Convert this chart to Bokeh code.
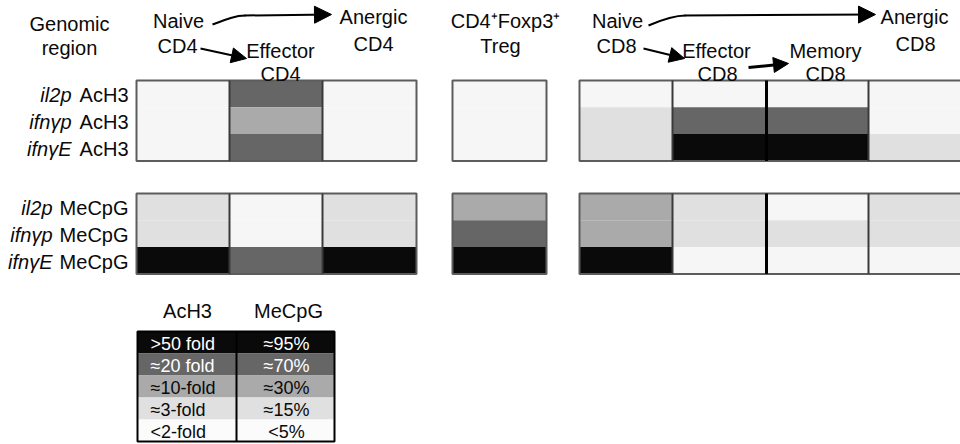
from bokeh.plotting import figure
from bokeh.models import Range1d, ColumnDataSource, Arrow, NormalHead
from bokeh.core.properties import value
from bokeh.embed import file_html
from bokeh.resources import INLINE

# ---------------- data ----------------
groups = ["CD4", "CD4", "CD4", "Treg", "CD8", "CD8", "CD8", "CD8"]
populations = ["Naive CD4", "Effector CD4", "Anergic CD4", "CD4+Foxp3+ Treg",
               "Naive CD8", "Effector CD8", "Memory CD8", "Anergic CD8"]
# levels: 0 = <2-fold / <5%, 1 = ~3-fold / ~15%, 2 = ~10-fold / ~30%, 3 = ~20 fold / ~70%, 4 = >50 fold / ~95%
ach3_il2p = [0, 3, 0, 0, 0, 0, 0, 0]
ach3_ifngp = [0, 2, 0, 0, 1, 3, 3, 0]
ach3_ifngE = [0, 3, 0, 0, 1, 4, 4, 1]
mecpg_il2p = [1, 0, 1, 2, 2, 1, 0, 1]
mecpg_ifngp = [1, 0, 1, 3, 2, 1, 1, 1]
mecpg_ifngE = [4, 3, 4, 4, 4, 0, 0, 0]
ach3_rows = [("il2p", "AcH3"), ("ifnγp", "AcH3"), ("ifnγE", "AcH3")]
mecpg_rows = [("il2p", "MeCpG"), ("ifnγp", "MeCpG"), ("ifnγE", "MeCpG")]
legend_ach3 = [">50 fold", "≈20 fold", "≈10-fold", "≈3-fold", "<2-fold"]
legend_mecpg = ["≈95%", "≈70%", "≈30%", "≈15%", "<5%"]
legend_levels = [4, 3, 2, 1, 0]

# ---------------- style / layout ----------------
palette = ["#f6f6f6", "#e0e0e0", "#aaaaaa", "#666666", "#0a0a0a"]
FONT = value("Liberation Sans")
TXT = "#0a0a0a"
panel_x0 = {"CD4": 136, "Treg": 452, "CD8": 579}
col_w = [93, 93, 94, 94, 93, 94, 102, 93]
block_y0 = [80, 193]
row_h = 26.8

p = figure(width=960, height=444, x_range=Range1d(0, 960), y_range=Range1d(444, 0),
           min_border=0, toolbar_location=None, output_backend="svg",
           outline_line_color=None, background_fill_color="white")
p.axis.visible = False
p.grid.visible = False

# column edges
lefts, rights = [], []
prev = None
x = 0
for g, w in zip(groups, col_w):
    if g != prev:
        x = panel_x0[g]
        prev = g
    lefts.append(x)
    rights.append(x + w)
    x += w

blocks = [[ach3_il2p, ach3_ifngp, ach3_ifngE], [mecpg_il2p, mecpg_ifngp, mecpg_ifngE]]
L, R, T, B, C = [], [], [], [], []
for bi, rows in enumerate(blocks):
    for ri, vals in enumerate(rows):
        for ci, v in enumerate(vals):
            L.append(lefts[ci]); R.append(rights[ci])
            T.append(block_y0[bi] + ri * row_h); B.append(block_y0[bi] + (ri + 1) * row_h)
            C.append(palette[v])
p.quad(source=ColumnDataSource(dict(l=L, r=R, t=T, b=B, c=C)),
       left="l", right="r", top="t", bottom="b", fill_color="c", line_color=None)

# panel outlines and separators
for bi in range(2):
    y0 = block_y0[bi]
    y1 = y0 + 3 * row_h
    for g in ["CD4", "Treg", "CD8"]:
        idx = [i for i, gg in enumerate(groups) if gg == g]
        p.quad(left=lefts[idx[0]], right=rights[idx[-1]], top=y0, bottom=y1,
               fill_color=None, line_color="#5c5c5c", line_width=2)
        for i in idx[1:]:
            dark = populations[i] == "Memory CD8"
            p.segment(x0=lefts[i], y0=y0, x1=lefts[i], y1=y1,
                      line_color="#000000" if dark else "#3a3a3a",
                      line_width=3 if dark else 2)

# row labels
lab_right = 128
ital_right = {"AcH3": 71, "MeCpG": 52}
for bi, rows in enumerate([ach3_rows, mecpg_rows]):
    for ri, (gene, mark) in enumerate(rows):
        yc = block_y0[bi] + (ri + 0.5) * row_h + 1
        p.text(x=[lab_right], y=[yc], text=[mark], text_font=FONT, text_font_size="20px",
               text_align="right", text_baseline="middle", text_color=TXT)
        p.text(x=[ital_right[mark]], y=[yc], text=[gene], text_font=FONT, text_font_size="20px",
               text_font_style="italic", text_align="right", text_baseline="middle",
               text_color=TXT)

# header labels (x centre, y middle)
headers = [("Genomic", 69, 23), ("region", 69, 47),
           ("Naive", 178, 20), ("CD4", 177, 45),
           ("Effector", 280, 50), ("CD4", 280, 73),
           ("Anergic", 373, 16), ("CD4", 373, 43),
           ("CD4⁺Foxp3⁺", 505, 20), ("Treg", 500, 45),
           ("Naive", 617, 20), ("CD8", 616, 45),
           ("Effector", 716, 50), ("CD8", 717, 73),
           ("Memory", 825, 50), ("CD8", 825, 73),
           ("Anergic", 914, 16), ("CD8", 915, 43)]
p.text(x=[h[1] for h in headers], y=[h[2] for h in headers], text=[h[0] for h in headers],
       text_font=FONT, text_font_size="20px", text_align="center",
       text_baseline="middle", text_color=TXT)

# arrows
def head(sz):
    return NormalHead(size=sz, fill_color="black", line_color="black", line_width=1)

p.bezier(x0=[212, 648], y0=[24, 25], x1=[245, 685], y1=[15, 15],
         cx0=[225, 662], cy0=[19, 19], cx1=[235, 675], cy1=[15, 15],
         line_color="black", line_width=2)
p.add_layout(Arrow(end=head(17), x_start=244, y_start=15, x_end=331, y_end=14,
                   line_width=2, line_color="black"))
p.add_layout(Arrow(end=head(17), x_start=684, y_start=15, x_end=875, y_end=14,
                   line_width=2, line_color="black"))
p.add_layout(Arrow(end=head(15), x_start=200, y_start=48, x_end=246, y_end=58,
                   line_width=2, line_color="black"))
p.add_layout(Arrow(end=head(15), x_start=643, y_start=48, x_end=684, y_end=58,
                   line_width=2, line_color="black"))
p.add_layout(Arrow(end=head(15), x_start=748, y_start=67, x_end=788, y_end=63,
                   line_width=3, line_color="black"))

# legend
lg_x0, lg_x1, lg_div = 137, 334, 236
lg_y0, lg_h = 331, 22
p.text(x=[187, 288], y=[310, 310], text=["AcH3", "MeCpG"], text_font=FONT,
       text_font_size="20px", text_align="center", text_baseline="middle",
       text_color=TXT)
lt = [lg_y0 + i * lg_h for i in range(len(legend_levels))]
lb = [t + lg_h for t in lt]
lc = [palette[v] if v > 0 else "#fbfbfb" for v in legend_levels]
p.quad(left=lg_x0, right=lg_x1, top=lt, bottom=lb, fill_color=lc, line_color=None)
p.quad(left=lg_x0, right=lg_x1, top=lg_y0, bottom=lb[-1], fill_color=None,
       line_color="black", line_width=2)
p.segment(x0=lg_div, y0=lg_y0, x1=lg_div, y1=lb[-1], line_color="black", line_width=2)
tc = ["white" if v >= 3 else TXT for v in legend_levels]
ym = [(a + b) / 2 + 1 for a, b in zip(lt, lb)]
p.text(x=[150] * 5, y=ym, text=legend_ach3, text_color=tc, text_font=FONT,
       text_font_size="18px", text_align="left", text_baseline="middle")
p.text(x=[286] * 5, y=ym, text=legend_mecpg, text_color=tc, text_font=FONT,
       text_font_size="18px", text_align="center", text_baseline="middle")

open("out.html", "w").write(file_html(p, INLINE))
